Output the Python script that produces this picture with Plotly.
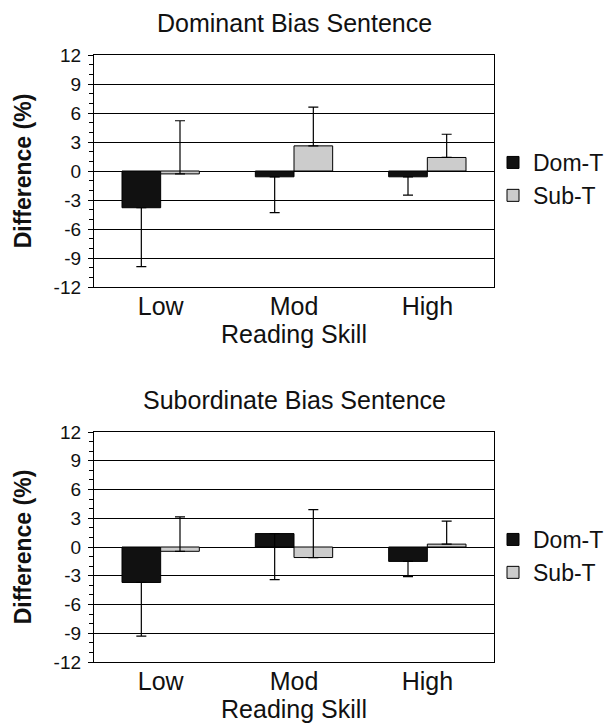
import plotly.graph_objects as go

categories = ["Low", "Mod", "High"]
series_names = ["Dom-T", "Sub-T"]
panel_titles = ["Dominant Bias Sentence", "Subordinate Bias Sentence"]

dom_top = [-3.8, -0.6, -0.6]
dom_top_err = [6.1, 3.7, 1.9]
sub_top = [-0.3, 2.6, 1.4]
sub_top_err = [5.5, 4.0, 2.4]

dom_bot = [-3.7, 1.4, -1.5]
dom_bot_err = [5.6, 4.8, 1.6]
sub_bot = [-0.45, -1.1, 0.3]
sub_bot_err = [3.6, 5.0, 2.4]

y_ticks = [-12, -9, -6, -3, 0, 3, 6, 9, 12]

W, H = 609, 727
FONT = "Liberation Sans, Arial, sans-serif"
colors = {"Dom-T": "#111111", "Sub-T": "#cccccc"}

fig = go.Figure()

panels = [
    ("x", "y", "legend", dom_top, dom_top_err, sub_top, sub_top_err),
    ("x2", "y2", "legend2", dom_bot, dom_bot_err, sub_bot, sub_bot_err),
]
for xa, ya, lg, dv, de, sv, se in panels:
    fig.add_trace(go.Bar(
        x=categories, y=dv, name=series_names[0], xaxis=xa, yaxis=ya, legend=lg,
        marker=dict(color=colors["Dom-T"], line=dict(color="black", width=1)),
        error_y=dict(type="data", symmetric=False, array=[0] * len(dv), arrayminus=de,
                     color="black", thickness=1.2, width=5),
    ))
    fig.add_trace(go.Bar(
        x=categories, y=sv, name=series_names[1], xaxis=xa, yaxis=ya, legend=lg,
        marker=dict(color=colors["Sub-T"], line=dict(color="black", width=1)),
        error_y=dict(type="data", symmetric=False, array=se, arrayminus=[0] * len(sv),
                     color="black", thickness=1.2, width=5),
    ))

def px_y(p):
    return (H - p) / H

xdom = [94 / W, 494 / W]
ydoms = [[px_y(287), px_y(55)], [px_y(662), px_y(432)]]

common_x = dict(
    automargin=False,
    showline=True, linecolor="black", linewidth=1.3, mirror=True, ticks="",
    showgrid=False, zeroline=False, ticklabelstandoff=-3,
    tickfont=dict(family=FONT, size=25, color="#111"),
    title=dict(text="Reading Skill", font=dict(family=FONT, size=25, color="#111"), standoff=1),
    domain=xdom,
)
common_y = dict(
    automargin=False,
    range=[-12, 12], tickvals=y_ticks, ticktext=[str(v) for v in y_ticks],
    showgrid=True, gridcolor="black", gridwidth=1.2, zeroline=False,
    showline=True, linecolor="black", linewidth=1.3, mirror=True,
    ticks="outside", ticklen=5, tickcolor="black", ticklabelstandoff=3,
    minor=dict(dtick=1, tick0=0, ticks="outside", ticklen=4, tickcolor="black", showgrid=False),
    tickfont=dict(family=FONT, size=19, color="#111"),
    title=dict(text="<b>Difference (%)</b>", font=dict(family=FONT, size=23, color="#111"), standoff=15),
)

LEG_X = 493
LEG_TOP = 141
fig.update_layout(
    template="none",
    width=W, height=H, autosize=False,
    margin=dict(l=0, r=0, t=0, b=0, pad=0),
    paper_bgcolor="white", plot_bgcolor="white",
    barmode="group", bargap=0.42, bargroupgap=0,
    xaxis=dict(common_x, anchor="y"),
    yaxis=dict(common_y, domain=ydoms[0], anchor="x"),
    xaxis2=dict(common_x, anchor="y2"),
    yaxis2=dict(common_y, domain=ydoms[1], anchor="x2"),
    legend=dict(x=LEG_X / W, y=px_y(LEG_TOP), xanchor="left", yanchor="top",
                font=dict(family=FONT, size=23, color="#111"), bgcolor="rgba(0,0,0,0)",
                itemwidth=30, tracegroupgap=0),
    legend2=dict(x=LEG_X / W, y=px_y(LEG_TOP + 377), xanchor="left", yanchor="top",
                 font=dict(family=FONT, size=23, color="#111"), bgcolor="rgba(0,0,0,0)",
                 itemwidth=30, tracegroupgap=0),
    showlegend=True,
)

for t, yc in zip(panel_titles, [23, 23 + 377]):
    fig.add_annotation(text=t, x=(xdom[0] + xdom[1]) / 2, y=px_y(yc), xref="paper", yref="paper",
                       xanchor="center", yanchor="middle", showarrow=False,
                       font=dict(family=FONT, size=25, color="#111"))

fig.write_html("out.html", config={"displayModeBar": False},
               post_script="document.body.style.margin='0';document.body.style.overflow='hidden';")
